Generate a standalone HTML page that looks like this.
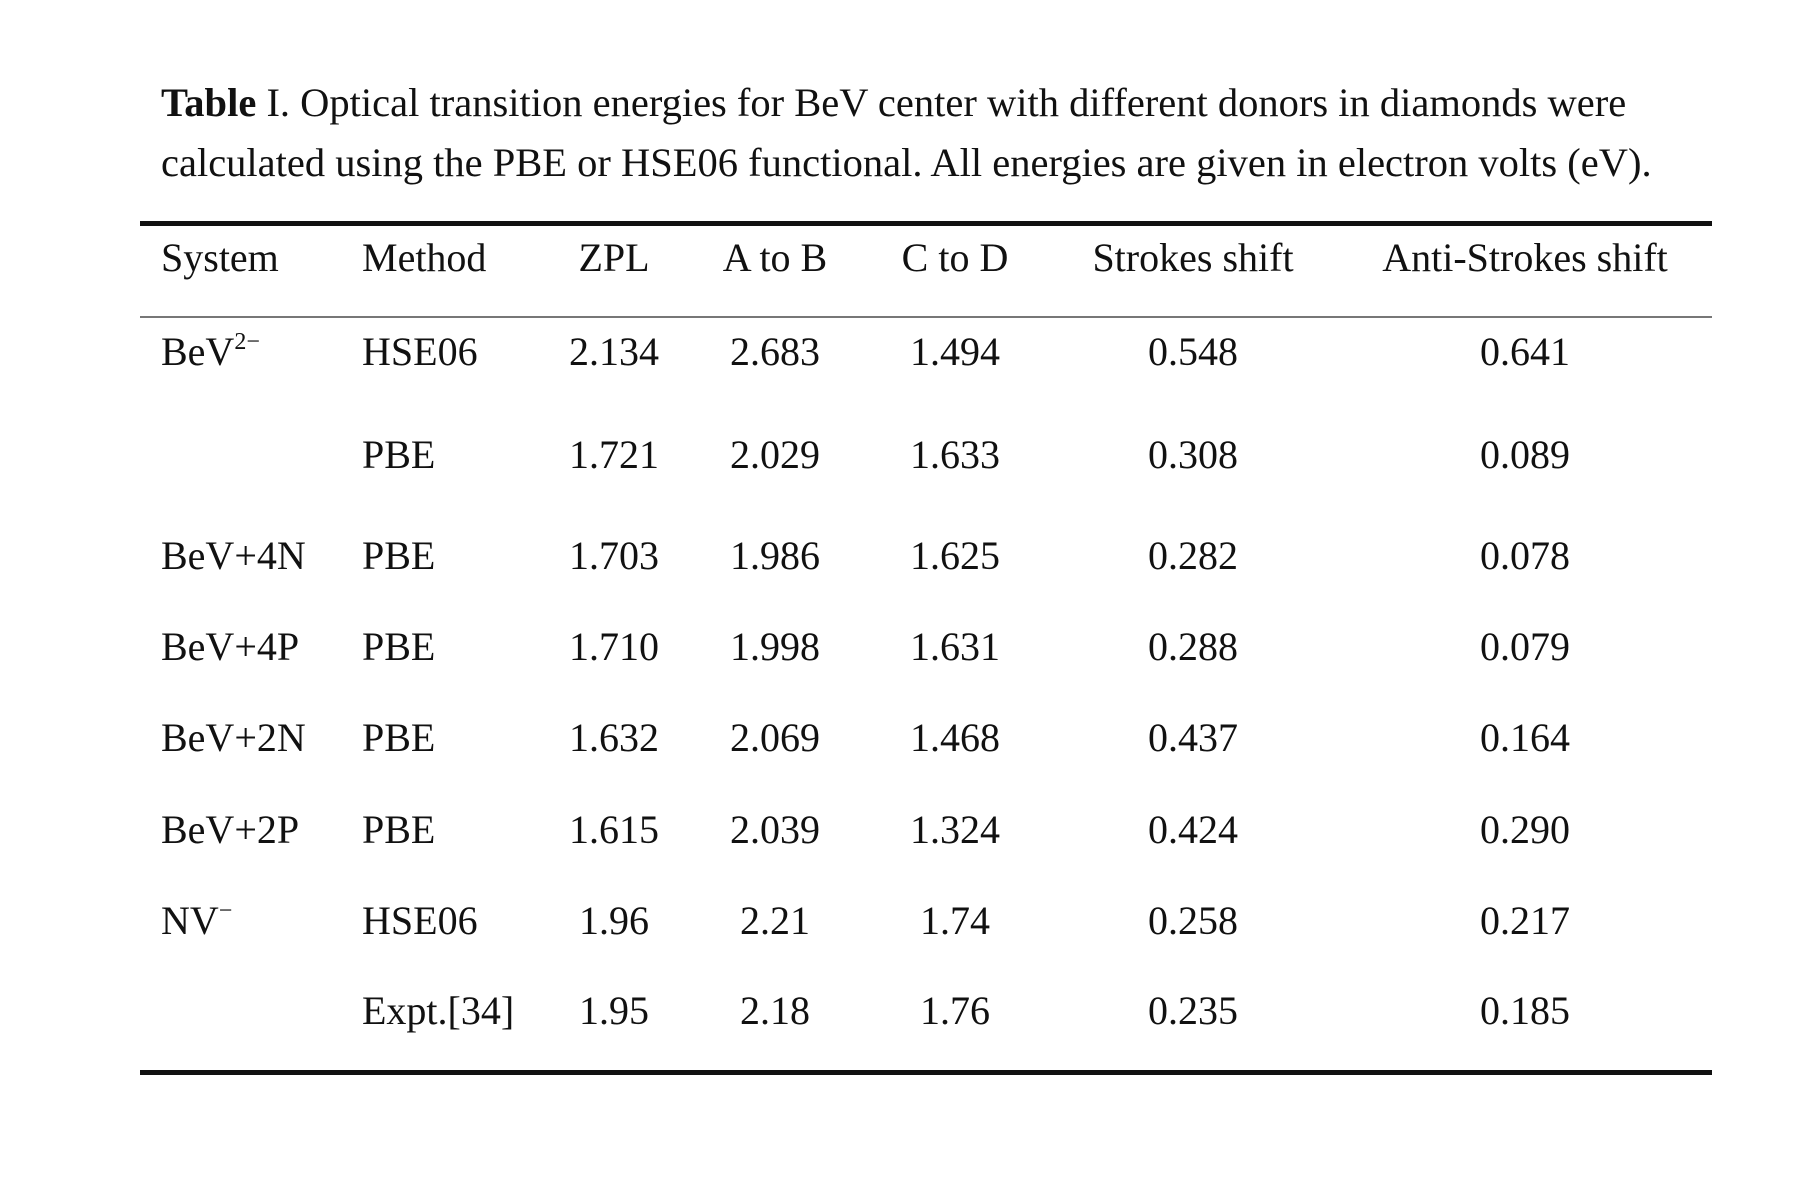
<!DOCTYPE html>
<html><head><meta charset="utf-8">
<style>
html,body{margin:0;padding:0;background:#fff;}
body{width:1795px;height:1188px;position:relative;overflow:hidden;font-family:"Liberation Serif",serif;color:#111;}
.cap{position:absolute;left:161px;font-size:40.5px;white-space:nowrap;line-height:1;}
.rule{position:absolute;left:140px;width:1572px;background:#111;}
.t{position:absolute;font-size:40px;white-space:nowrap;line-height:1;}
.c{transform:translateX(-50%);}
sup{font-size:24px;vertical-align:0;position:relative;top:-16px;}
</style></head>
<body>
<div class="cap" style="top:83px"><b>Table</b> I. Optical transition energies for BeV center with different donors in diamonds were</div>
<div class="cap" style="top:143px">calculated using the PBE or HSE06 functional. All energies are given in electron volts (eV).</div>
<div class="rule" style="top:221px;height:5px"></div>
<div class="rule" style="top:316px;height:2px;background:#777"></div>
<div class="rule" style="top:1070px;height:5px"></div>
<div id="tbl"></div>
<script>
const headers=["System","Method","ZPL","A to B","C to D","Strokes shift","Anti-Strokes shift"];
const systems=["BeV<sup>2−</sup>","","BeV+4N","BeV+4P","BeV+2N","BeV+2P","NV<sup>−</sup>",""];
const methods=["HSE06","PBE","PBE","PBE","PBE","PBE","HSE06","Expt.[34]"];
const zpl=["2.134","1.721","1.703","1.710","1.632","1.615","1.96","1.95"];
const aToB=["2.683","2.029","1.986","1.998","2.069","2.039","2.21","2.18"];
const cToD=["1.494","1.633","1.625","1.631","1.468","1.324","1.74","1.76"];
const stokes=["0.548","0.308","0.282","0.288","0.437","0.424","0.258","0.235"];
const antiStokes=["0.641","0.089","0.078","0.079","0.164","0.290","0.217","0.185"];
const colX=[161,362,614,775,955,1193,1525];
const centered=[false,false,true,true,true,true,true];
const rowTop=[332,435,536,627,718,810,901,991];
const tbl=document.getElementById('tbl');
function put(html,x,top,ctr,name){
  const d=document.createElement('div');
  d.className='t'+(ctr?' c':'');
  d.style.left=x+'px';d.style.top=top+'px';
  d.innerHTML=html;
  
  
  tbl.appendChild(d);
}
headers.forEach((h,i)=>put(h,colX[i],238,centered[i],'header-cell'));
const cols=[systems,methods,zpl,aToB,cToD,stokes,antiStokes];
for(let r=0;r<methods.length;r++){
  cols.forEach((col,i)=>{ if(col[r]) put(col[r],colX[i],rowTop[r],centered[i],'table-cell'); });
}
</script>
</body></html>
